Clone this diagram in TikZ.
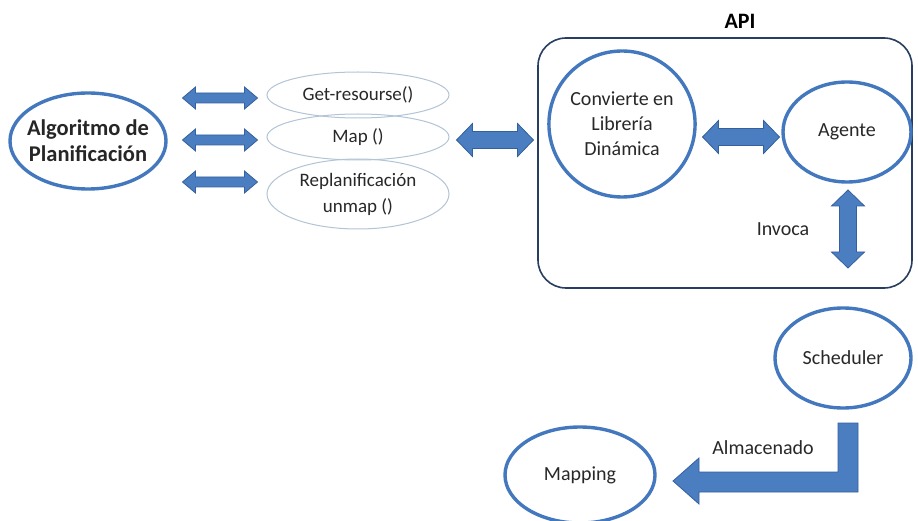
\documentclass[tikz,border=0pt]{standalone}
\usepackage{fontspec}
\setmainfont{Carlito}
\usetikzlibrary{shapes.geometric}
\definecolor{ringblue}{RGB}{68,120,190}
\definecolor{arrowfill}{RGB}{74,126,192}
\definecolor{arrowline}{RGB}{52,96,158}
\definecolor{paleline}{RGB}{178,196,214}
\definecolor{boxline}{RGB}{40,62,96}
\definecolor{txt}{RGB}{40,40,40}
\tikzset{
  ring/.style={ellipse, draw=ringblue, line width=3.4pt, inner sep=0pt, align=center, text=txt, font=\fontsize{20}{25}\selectfont},
  pale/.style={ellipse, draw=paleline, line width=1pt, inner sep=0pt, align=center, text=txt, font=\fontsize{19}{26}\selectfont},
  plain/.style={text=txt, font=\fontsize{20}{24}\selectfont},
  arrowbody/.style={fill=arrowfill, draw=arrowline, line width=0.8pt, line join=miter},
  % two-headed block arrow: total length, shaft width, head width, head length
  pics/dbl/.style n args={4}{code={
    \pgfmathsetmacro\hl{#1/2}\pgfmathsetmacro\sw{#2/2}
    \pgfmathsetmacro\hw{#3/2}\pgfmathsetmacro\hk{#1/2-#4}
    \draw[arrowbody] (-\hl,0) -- (-\hk,-\hw) -- (-\hk,-\sw) -- (\hk,-\sw) -- (\hk,-\hw)
      -- (\hl,0) -- (\hk,\hw) -- (\hk,\sw) -- (-\hk,\sw) -- (-\hk,\hw) -- cycle;
  }}
}
\begin{document}
\begin{tikzpicture}[x=1pt,y=-1pt]
\useasboundingbox (0,0) rectangle (918,521);
\fill[white] (0,0) rectangle (918,521);

% API container
\draw[boxline, line width=1.6pt, rounded corners=28pt] (538,38) rectangle (912,288);
\node[font=\bfseries\fontsize{22}{26}\selectfont, text=black] (api) at (740,21) {API};

% left part
\node[ring, inner xsep=-19pt, inner ysep=-4pt, minimum width=156pt, minimum height=96pt, font=\bfseries\fontsize{22.5}{26}\selectfont, text=black!85] (alg) at (88,141) {Algoritmo de\\Planificación};
\node[pale, minimum width=182pt, minimum height=46pt] (get) at (358,95) {Get-resourse()};
\node[pale, minimum width=182pt, minimum height=46pt] (map) at (358,137) {Map ()};
\node[pale, minimum width=182pt, minimum height=70pt] (rep) at (358,194) {Replanificación\\unmap ()};

\coordinate (c1) at (220,98);
\coordinate (c2) at (220,140);
\coordinate (c3) at (220,182);
\pic at (c1) {dbl={75}{10}{22}{13}};
\pic at (c2) {dbl={75}{10}{22}{13}};
\pic at (c3) {dbl={75}{10}{22}{13}};

\coordinate (c4) at (495,140);
\pic at (c4) {dbl={77}{17}{33}{16}};

% inside API
\node[ring, minimum width=134pt, minimum height=146pt] (lib) at (622,124) {Convierte en\\Librería\\Dinámica};
\node[ring, minimum width=128pt, minimum height=100pt] (age) at (847,132) {Agente};
\coordinate (c5) at (741,137);
\pic at (c5) {dbl={77}{17}{33}{16}};
\coordinate (c6) at (848,229);
\pic[rotate=90] at (c6) {dbl={78}{17}{33}{16}};
\node[plain] (inv) at (783,229) {Invoca};

% outside
\node[ring, minimum width=136pt, minimum height=100pt] (sch) at (843,358) {Scheduler};
\node[ring, minimum width=150pt, minimum height=96pt] (mapg) at (580,475) {Mapping};
\node[plain] (alm) at (763,448) {Almacenado};

% bent arrow from Scheduler to Mapping
\draw[arrowbody]
  (838,423) -- (858,423) -- (858,492) -- (699,492) -- (699,504)
  -- (673,481) -- (699,458) -- (699,472) -- (838,472) -- cycle;
\end{tikzpicture}
\end{document}
